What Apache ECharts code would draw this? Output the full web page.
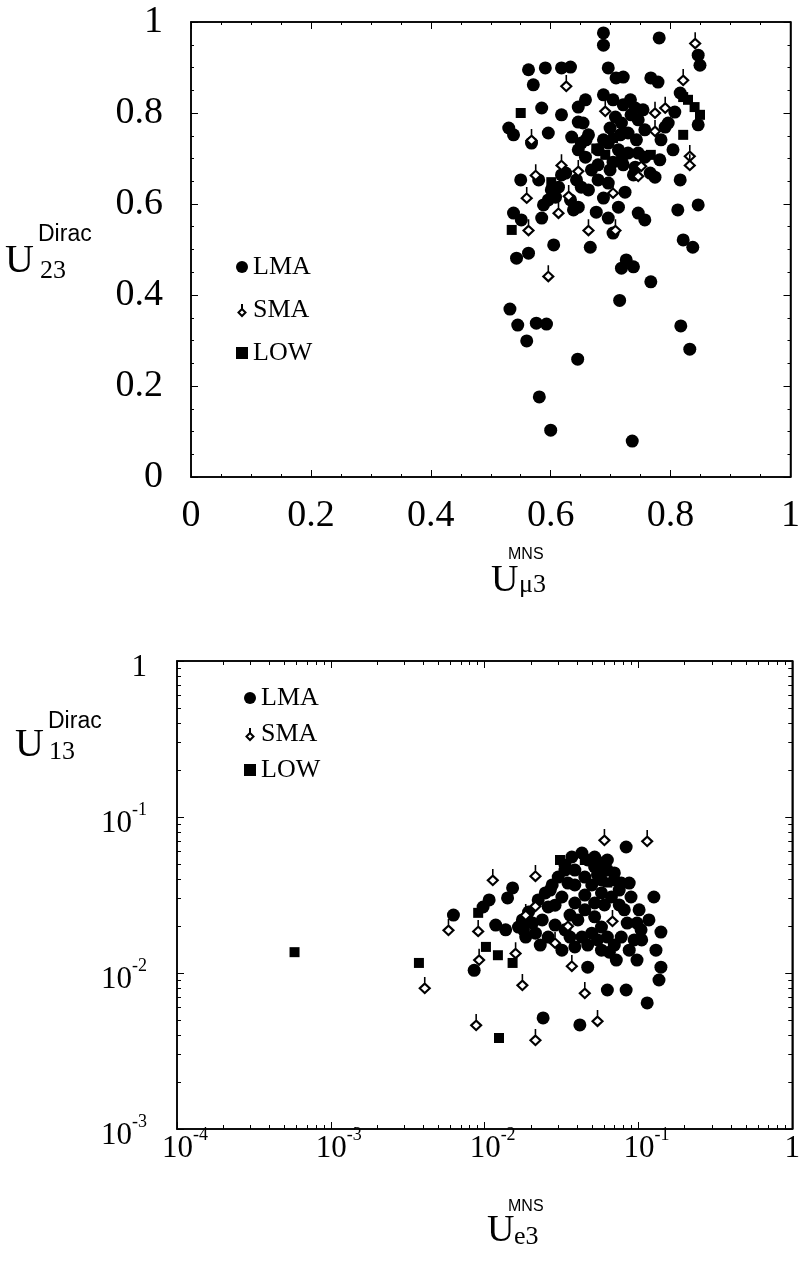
<!DOCTYPE html>
<html>
<head>
<meta charset="utf-8">
<script src="https://cdn.jsdelivr.net/npm/echarts@6/dist/echarts.min.js"></script>
<style>
  html, body { margin: 0; padding: 0; background: #fff; }
  #chart { width: 803px; height: 1268px; }
</style>
</head>
<body>
<div id="chart"></div>
<script>
// series names
const seriesNames = ['LMA', 'SMA', 'LOW'];

// upper panel: U_mu3 (MNS) vs U_23 (Dirac)
const topLMA = [
  [0.688,0.976],[0.688,0.949],[0.781,0.965],[0.846,0.927],[0.849,0.905],
  [0.563,0.895],[0.591,0.899],[0.618,0.899],[0.633,0.901],[0.571,0.862],
  [0.696,0.899],[0.709,0.877],[0.721,0.879],[0.767,0.877],[0.779,0.868],
  [0.658,0.829],[0.646,0.813],[0.585,0.811],[0.618,0.796],[0.733,0.829],
  [0.741,0.811],[0.807,0.802],[0.816,0.844],[0.530,0.767],[0.538,0.752],
  [0.568,0.734],[0.596,0.756],[0.646,0.780],[0.654,0.778],[0.635,0.747],
  [0.659,0.741],[0.708,0.791],[0.718,0.778],[0.696,0.734],[0.713,0.719],
  [0.729,0.756],[0.743,0.741],[0.757,0.763],[0.791,0.769],[0.796,0.778],
  [0.746,0.712],[0.757,0.703],[0.704,0.692],[0.718,0.697],[0.729,0.712],
  [0.741,0.681],[0.766,0.668],[0.774,0.659],[0.816,0.653],[0.646,0.719],
  [0.658,0.703],[0.651,0.734],[0.550,0.653],[0.580,0.653],[0.613,0.637],
  [0.625,0.668],[0.643,0.653],[0.651,0.637],[0.668,0.675],[0.679,0.653],
  [0.633,0.609],[0.608,0.615],[0.596,0.609],[0.696,0.646],[0.724,0.626],
  [0.646,0.593],[0.713,0.593],[0.746,0.580],[0.757,0.565],[0.812,0.587],
  [0.846,0.598],[0.538,0.580],[0.551,0.565],[0.585,0.569],[0.696,0.569],
  [0.704,0.536],[0.605,0.510],[0.666,0.505],[0.821,0.521],[0.837,0.505],
  [0.543,0.481],[0.563,0.492],[0.726,0.477],[0.718,0.459],[0.738,0.462],
  [0.767,0.429],[0.715,0.388],[0.532,0.369],[0.545,0.334],[0.576,0.338],
  [0.593,0.336],[0.560,0.299],[0.645,0.259],[0.817,0.332],[0.832,0.281],
  [0.581,0.176],[0.600,0.103],[0.736,0.079],
  [0.688,0.840],[0.704,0.829],[0.721,0.818],[0.734,0.796],[0.746,0.785],
  [0.754,0.807],[0.699,0.767],[0.716,0.752],[0.688,0.741],[0.679,0.719],
  [0.699,0.675],[0.721,0.686],[0.738,0.664],[0.679,0.686],[0.663,0.631],
  [0.688,0.613],[0.618,0.664],[0.601,0.631],[0.588,0.598],[0.638,0.587],
  [0.676,0.582],[0.784,0.741],[0.804,0.719],[0.782,0.697],[0.846,0.774],
  [0.663,0.752]
];
const topSMA = [
  [0.841,0.960],[0.626,0.866],[0.821,0.879],[0.691,0.811],[0.774,0.807],
  [0.791,0.818],[0.568,0.747],[0.774,0.767],[0.832,0.712],[0.832,0.692],
  [0.746,0.668],[0.751,0.690],[0.575,0.670],[0.618,0.692],[0.646,0.679],
  [0.630,0.624],[0.704,0.631],[0.560,0.620],[0.613,0.587],[0.563,0.549],
  [0.663,0.549],[0.708,0.549],[0.596,0.448]
];
const topLOW = [
  [0.550,0.800],[0.821,0.835],[0.829,0.829],[0.840,0.813],[0.849,0.796],
  [0.821,0.752],[0.767,0.708],[0.691,0.708],[0.601,0.648],[0.535,0.543],
  [0.704,0.745],[0.676,0.722]
];

// lower panel: U_e3 (MNS) vs U_13 (Dirac), log-log
const botLMA = [
  [0.0832,0.0642],[0.0152,0.0351],[0.0141,0.0303],[0.0107,0.0294],[0.00977,0.0265],
  [0.00627,0.0235],[0.0118,0.0203],[0.0137,0.0189],[0.0179,0.0189],[0.0205,0.0209],
  [0.0237,0.0219],[0.0259,0.0265],[0.0318,0.0307],[0.0348,0.0377],[0.0386,0.0457],
  [0.0468,0.0530],[0.0519,0.0478],[0.0628,0.0530],[0.0697,0.0438],[0.0773,0.0377],
  [0.0871,0.0377],[0.0895,0.0307],[0.101,0.0254],[0.0404,0.0219],[0.0429,0.0170],
  [0.0519,0.0229],[0.0497,0.0180],[0.0575,0.0197],[0.0628,0.0170],[0.0773,0.0170],
  [0.0845,0.0209],[0.0979,0.0209],[0.0318,0.0140],[0.0386,0.0147],[0.0214,0.0180],
  [0.0185,0.0170],[0.0166,0.0197],[0.00855,0.0104],[0.0575,0.0140],[0.0647,0.0136],
  [0.0718,0.0121],[0.0979,0.0121],[0.105,0.0163],[0.130,0.0140],[0.140,0.0183],
  [0.140,0.0109],[0.136,0.00902],[0.104,0.0189],[0.0468,0.0109],[0.0628,0.00778],
  [0.0832,0.00778],[0.114,0.00643],[0.0240,0.00515],[0.0416,0.00465],
  [0.0287,0.0272],[0.0448,0.0316],[0.0575,0.0395],[0.0359,0.0235],[0.0750,0.0273],
  [0.0601,0.0273],[0.0333,0.0457],[0.0386,0.0367],[0.0267,0.0340],
  [0.0176,0.0219],[0.0193,0.0246],[0.0223,0.0294],[0.0248,0.0326],[0.0275,0.0367],
  [0.0301,0.0412],[0.0333,0.0492],[0.0369,0.0554],[0.0429,0.0588],[0.0519,0.0554],
  [0.0575,0.0507],[0.0628,0.0457],[0.0697,0.0395],[0.0750,0.0340],[0.0667,0.0307],
  [0.0575,0.0326],[0.0497,0.0367],[0.0448,0.0412],[0.0542,0.0425],[0.0386,0.0281],
  [0.0448,0.0254],[0.0519,0.0281],[0.0287,0.0203],[0.0333,0.0189],[0.0259,0.0170],
  [0.0230,0.0151],[0.0359,0.0170],[0.0468,0.0151],[0.0542,0.0163],[0.0697,0.0151],
  [0.0871,0.0140],[0.0938,0.0163],[0.0809,0.0254],[0.117,0.0219],[0.126,0.0307]
];
const botSMA = [
  [0.0601,0.0744],[0.114,0.0733],[0.0113,0.0412],[0.0214,0.0438],[0.0185,0.0246],
  [0.0214,0.0281],[0.00582,0.0197],[0.00908,0.0194],[0.0348,0.0209],[0.0678,0.0225],
  [0.0287,0.0163],[0.00921,0.0127],[0.0159,0.0140],[0.00408,0.00838],[0.0176,0.00875],
  [0.0369,0.0116],[0.0448,0.00778],[0.00881,0.00485],[0.0542,0.00515],[0.0214,0.00389]
];
const botLOW = [
  [0.000581,0.0136],[0.00374,0.0116],[0.00908,0.0243],[0.0102,0.0147],[0.0122,0.0130],
  [0.0152,0.0116],[0.0124,0.00383],[0.0309,0.0530],[0.0448,0.0530],[0.0575,0.0457],
  [0.0628,0.0380]
];

// tick labels
const topXLabels = ['0', '0.2', '0.4', '0.6', '0.8', '1'];
const topYLabels = ['0', '0.2', '0.4', '0.6', '0.8', '1'];
const botXTicks = [1e-4, 1e-3, 1e-2, 1e-1, 1];
const botXLabels = ['10^-4', '10^-3', '10^-2', '10^-1', '1'];
const botYTicks = [1e-3, 1e-2, 1e-1, 1];
const botYLabels = ['10^-3', '10^-2', '10^-1', '1'];

const SERIF = '"Liberation Serif", "DejaVu Serif", serif';
const SANS = '"Liberation Sans", Arial, sans-serif';
const BLACK = '#000';

// minor ticks of a log axis, as exponents (2..9 within each decade)
function logMinors(lo, hi) {
  const out = [];
  for (let e = lo; e < hi; e++) {
    for (let m = 2; m <= 9; m++) out.push(e + Math.log10(m));
  }
  return out;
}

// '10^-2' -> rich text with superscript
function toRich(label) {
  if (label.indexOf('^') < 0) return '{c|' + label + '}';
  const parts = label.split('^');
  return '{b|' + parts[0] + '}{s|' + parts[1] + '}';
}

function logFormatter(ticks, labels) {
  return function (value) {
    const i = ticks.findIndex(t => Math.abs(Math.log10(t) - Math.log10(value)) < 1e-6);
    return i < 0 ? '' : toRich(labels[i]);
  };
}

const richLog = {
  b: { fontFamily: SERIF, fontSize: 31, color: BLACK, lineHeight: 32, padding: [14, 0, 0, 16] },
  s: { fontFamily: SERIF, fontSize: 18, color: BLACK, verticalAlign: 'top' },
  c: { fontFamily: SERIF, fontSize: 31, color: BLACK, lineHeight: 32, padding: [14, 0, 0, 0] }
};

const lineStyle = { color: BLACK, width: 1.5 };

// linear axis for the upper panel
function linAxis(grid, pos, labels, showLabel, margin) {
  return {
    type: 'value', gridIndex: grid, position: pos,
    min: 0, max: 1, interval: 0.2,
    axisLine: { show: true, onZero: false, lineStyle: lineStyle },
    axisTick: { show: true, inside: true, length: 7, lineStyle: { color: BLACK, width: 1 } },
    minorTick: { show: true, splitNumber: 4, length: 3, lineStyle: { color: BLACK, width: 1 } },
    splitLine: { show: false },
    axisLabel: {
      show: showLabel, margin: margin, color: BLACK,
      fontFamily: SERIF, fontSize: 38,
      formatter: (v, i) => labels[i]
    }
  };
}

// log axis for the lower panel
function logAxis(grid, pos, min, max, ticks, labels, showLabel, margin) {
  return {
    type: 'log', logBase: 10, gridIndex: grid, position: pos,
    min: min, max: max,
    axisLine: { show: true, onZero: false, lineStyle: lineStyle },
    axisTick: { show: true, inside: true, length: 7, lineStyle: { color: BLACK, width: 1 } },
    splitLine: { show: false },
    axisLabel: {
      show: showLabel, margin: margin, color: BLACK,
      formatter: logFormatter(ticks, labels),
      rich: richLog
    }
  };
}

// hidden overlay axis that only draws the minor ticks of a log axis
function minorAxis(grid, pos, lo, hi) {
  return {
    type: 'value', gridIndex: grid, position: pos,
    min: lo, max: hi,
    axisLine: { show: false, onZero: false },
    axisTick: { show: true, inside: true, length: 4, customValues: logMinors(lo, hi), lineStyle: { color: BLACK, width: 1 } },
    axisLabel: { show: false },
    splitLine: { show: false }
  };
}

const smaSymbol = 'path://M5,0 L5,7 M5,7 L10,12 L5,17 L0,12 Z';

function scatter(name, data, xi, yi) {
  const s = { name: name, type: 'scatter', xAxisIndex: xi, yAxisIndex: yi, data: data };
  if (name === 'LMA') {
    s.symbol = 'circle'; s.symbolSize = 13;
    s.itemStyle = { color: BLACK, opacity: 1 };
  } else if (name === 'SMA') {
    s.symbol = smaSymbol; s.symbolSize = [10, 16];
    s.itemStyle = { color: '#fff', borderColor: BLACK, borderWidth: 2, opacity: 1 };
  } else {
    s.symbol = 'rect'; s.symbolSize = 10;
    s.itemStyle = { color: BLACK, opacity: 1 };
  }
  return s;
}

function legend(left, top, gap) {
  return {
    data: seriesNames, orient: 'vertical', left: left, top: top,
    itemGap: gap, itemWidth: 12, itemHeight: 12,
    selectedMode: false,
    textStyle: { fontFamily: SERIF, fontSize: 26, color: BLACK }
  };
}

function txt(x, y, text, size, family) {
  return {
    type: 'text', x: x, y: y,
    style: { text: text, fontSize: size, fontFamily: family, fill: BLACK, verticalAlign: 'middle', align: 'left' }
  };
}

const chart = echarts.init(document.getElementById('chart'), null, { renderer: 'canvas' });

chart.setOption({
  backgroundColor: '#fff',
  animation: false,
  textStyle: { fontFamily: SERIF },
  grid: [
    { left: 191, top: 22, width: 602, height: 455, show: true, borderColor: BLACK, borderWidth: 1.5 },
    { left: 177, top: 661, width: 623, height: 468, show: true, borderColor: BLACK, borderWidth: 1.5 }
  ],
  xAxis: [
    linAxis(0, 'bottom', topXLabels, true, 20),
    linAxis(0, 'top', topXLabels, false, 8),
    logAxis(1, 'bottom', 1e-4, 1, botXTicks, botXLabels, true, -3),
    logAxis(1, 'top', 1e-4, 1, botXTicks, botXLabels, false, 8),
    minorAxis(1, 'bottom', -4, 0),
    minorAxis(1, 'top', -4, 0)
  ],
  yAxis: [
    linAxis(0, 'left', topYLabels, true, 28),
    linAxis(0, 'right', topYLabels, false, 8),
    logAxis(1, 'left', 1e-3, 1, botYTicks, botYLabels, true, 30),
    logAxis(1, 'right', 1e-3, 1, botYTicks, botYLabels, false, 8),
    minorAxis(1, 'left', -3, 0),
    minorAxis(1, 'right', -3, 0)
  ],
  legend: [legend(231, 249, 17), legend(239, 680, 10)],
  graphic: [
    // upper y title
    txt(5, 261, 'U', 40, SERIF),
    txt(38, 235, 'Dirac', 23, SANS),
    txt(40, 271, '23', 26, SERIF),
    // upper x title
    txt(491, 581, 'U', 38, SERIF),
    txt(508, 555, 'MNS', 16, SANS),
    txt(519, 585, 'μ3', 26, SERIF),
    // lower y title
    txt(15, 745, 'U', 40, SERIF),
    txt(48, 722, 'Dirac', 23, SANS),
    txt(49, 752, '13', 26, SERIF),
    // lower x title
    txt(487, 1231, 'U', 38, SERIF),
    txt(508, 1207, 'MNS', 16, SANS),
    txt(514, 1237, 'e3', 26, SERIF)
  ],
  series: [
    scatter('LMA', topLMA, 0, 0),
    scatter('SMA', topSMA, 0, 0),
    scatter('LOW', topLOW, 0, 0),
    scatter('LMA', botLMA, 2, 2),
    scatter('SMA', botSMA, 2, 2),
    scatter('LOW', botLOW, 2, 2)
  ]
});
</script>
</body>
</html>
